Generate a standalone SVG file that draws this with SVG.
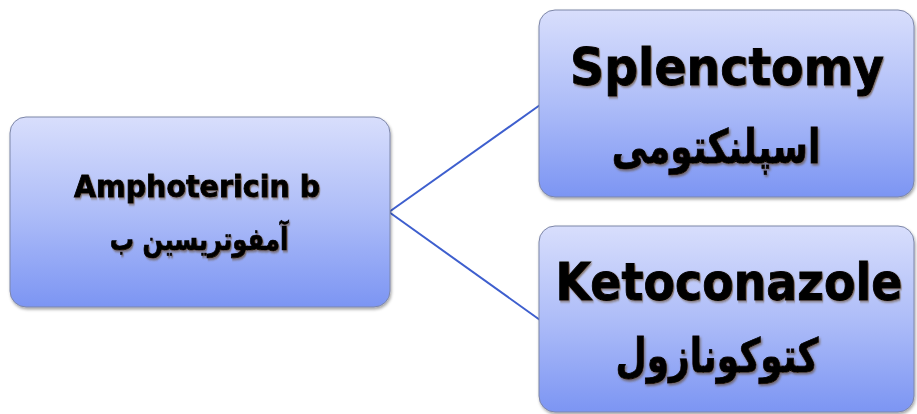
<svg xmlns="http://www.w3.org/2000/svg" width="917" height="414" viewBox="0 0 917 414">
  <defs>
    <linearGradient id="boxFill" x1="0" y1="0" x2="0" y2="1">
      <stop offset="0" stop-color="#d8defc"/>
      <stop offset="0.5" stop-color="#aebdf8"/>
      <stop offset="1" stop-color="#7c95f3"/>
    </linearGradient>
    <filter id="boxShadow" x="-10%" y="-10%" width="120%" height="120%">
      <feDropShadow dx="1" dy="2" stdDeviation="1.5" flood-color="#000" flood-opacity="0.35"/>
    </filter>
    <filter id="textShadow" x="-10%" y="-20%" width="120%" height="150%">
      <feDropShadow dx="1.2" dy="1.5" stdDeviation="0.8" flood-color="#5a3a10" flood-opacity="0.6"/>
    </filter>
  </defs>
  <style>
    .box { fill: url(#boxFill); stroke: #7d86a8; stroke-width: 1; filter: url(#boxShadow); }
    .en { font-family: "DejaVu Sans", "Liberation Sans", sans-serif; font-weight: bold; fill: #000; stroke: #000; stroke-width: 0.9; text-anchor: middle; filter: url(#textShadow); }
    .fa { font-family: "DejaVu Sans", "Noto Sans", sans-serif; font-weight: bold; fill: #000; stroke: #000; stroke-width: 0.6; text-anchor: middle; direction: rtl; filter: url(#textShadow); }
    .edge { stroke: #3e5fce; stroke-width: 2; fill: none; }
  </style>
  <rect width="917" height="414" fill="#ffffff"/>

  <g id="connectors">
    <line class="edge" x1="389" y1="212" x2="540" y2="105"/>
    <line class="edge" x1="389" y1="212" x2="540" y2="320"/>
  </g>

  <g id="amphotericin">
    <rect class="box" x="10" y="117" width="380" height="190" rx="16"/>
    <text class="en" transform="translate(197,197) scale(0.92,1)" font-size="31">Amphotericin b</text>
    <text class="fa" transform="translate(199,250) scale(0.97,1.25)" font-size="25">آمفوتریسین ب</text>
  </g>

  <g id="splenctomy">
    <rect class="box" x="539" y="10" width="375" height="187" rx="16"/>
    <text class="en" transform="translate(727,85) scale(0.93,1)" font-size="51">Splenctomy</text>
    <text class="fa" transform="translate(716,163) scale(1,1.3)" font-size="36">اسپلنکتومی</text>
  </g>

  <g id="ketoconazole">
    <rect class="box" x="539" y="226" width="375" height="186" rx="16"/>
    <text class="en" transform="translate(729,300) scale(0.9,1)" font-size="51">Ketoconazole</text>
    <text class="fa" transform="translate(717,372) scale(1,1.3)" font-size="36">کتوکونازول</text>
  </g>
</svg>
